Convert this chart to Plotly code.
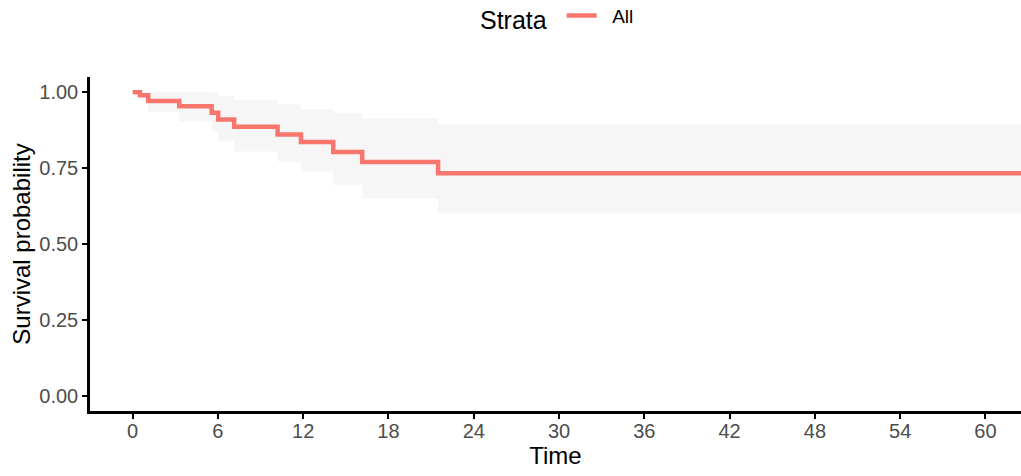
import plotly.graph_objects as go

# Kaplan-Meier estimate (step function)
times = [0, 0.51, 1.10, 3.28, 5.56, 6.02, 7.14, 10.20, 11.84, 14.11, 16.15, 21.49, 63.0]
surv  = [1.000, 0.990, 0.971, 0.954, 0.932, 0.910, 0.886, 0.861, 0.836, 0.803, 0.770, 0.733, 0.733]
upper = [1.000, 1.000, 1.000, 1.000, 0.997, 0.987, 0.975, 0.960, 0.945, 0.932, 0.915, 0.893, 0.893]
lower = [1.000, 0.970, 0.934, 0.904, 0.871, 0.838, 0.805, 0.772, 0.740, 0.695, 0.651, 0.601, 0.601]

x_ticks = [0, 6, 12, 18, 24, 30, 36, 42, 48, 54, 60]
y_ticks = [0.00, 0.25, 0.50, 0.75, 1.00]

line_col = "#F8766D"
band_col = "#f6f6f6"
font_fam = "Arial, Liberation Sans, sans-serif"

fig = go.Figure()
fig.add_trace(go.Scatter(x=times, y=upper, mode="lines", line=dict(shape="hv", width=0, color=band_col),
                         showlegend=False, hoverinfo="skip"))
fig.add_trace(go.Scatter(x=times, y=lower, mode="lines", line=dict(shape="hv", width=0, color=band_col),
                         fill="tonexty", fillcolor=band_col, showlegend=False, hoverinfo="skip"))
fig.add_trace(go.Scatter(x=times, y=surv, mode="lines", name="\u00a0\u00a0All",
                         line=dict(shape="hv", width=4.5, color=line_col)))

fig.update_layout(
    width=1021, height=476,
    margin=dict(l=90, r=0, t=77, b=65),
    paper_bgcolor="white", plot_bgcolor="white",
    font=dict(family=font_fam, color="black"),
    legend=dict(orientation="h", xref="container", yref="container", x=0.547, y=0.962,
                xanchor="center", yanchor="middle",
                title=dict(text="Strata\u00a0", font=dict(size=25, color="black")),
                font=dict(size=19, color="black"), bgcolor="rgba(0,0,0,0)"),
    xaxis=dict(range=[-3, 62.5], tickvals=x_ticks, ticktext=[str(v) for v in x_ticks],
               showline=True, linecolor="black", linewidth=2.5, ticks="outside", ticklen=5,
               tickwidth=2, tickcolor="black", showgrid=False, zeroline=False,
               tickfont=dict(size=20, color="#4d4d4d"), ticklabelstandoff=-5,
               title=dict(text="Time", font=dict(size=24, color="black"), standoff=0)),
    yaxis=dict(range=[-0.05, 1.05], tickvals=y_ticks, ticktext=[f"{v:.2f}" for v in y_ticks],
               showline=True, linecolor="black", linewidth=2.5, ticks="outside", ticklen=5,
               tickwidth=2, tickcolor="black", showgrid=False, zeroline=False,
               tickfont=dict(size=20, color="#4d4d4d"),
               title=dict(text="Survival probability", font=dict(size=24, color="black"), standoff=2)),
)

fig.write_html("out.html")
